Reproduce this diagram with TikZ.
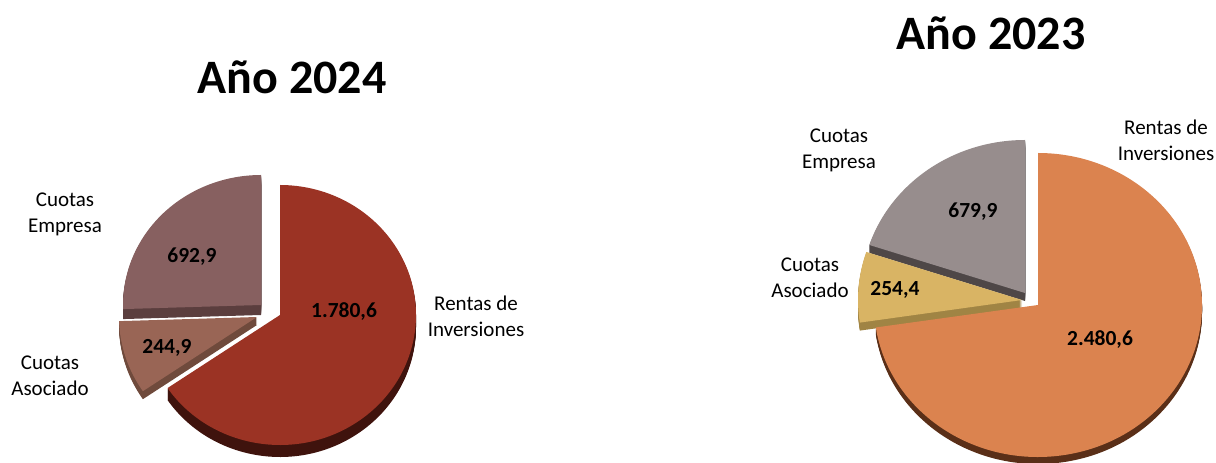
\documentclass[tikz,border=0pt]{standalone}
\usepackage{fontspec}
\setmainfont{Carlito}
\definecolor{rentA}{HTML}{9B3324}
\definecolor{rentAs}{HTML}{3F130D}
\definecolor{empA}{HTML}{876060}
\definecolor{empAs}{HTML}{5B3E3E}
\definecolor{asoA}{HTML}{996555}
\definecolor{asoAs}{HTML}{6F4A3C}
\definecolor{rentB}{HTML}{DB834F}
\definecolor{rentBs}{HTML}{5A2F18}
\definecolor{empB}{HTML}{978D8D}
\definecolor{empBs}{HTML}{4E4747}
\definecolor{asoB}{HTML}{D9B464}
\definecolor{asoBs}{HTML}{A08444}
\begin{document}
\begin{tikzpicture}[x=1pt,y=1pt,
  ttl/.style={font=\fontsize{48}{58}\selectfont\bfseries},
  lbl/.style={font=\fontsize{21}{26}\selectfont,align=center},
  val/.style={font=\fontsize{21.5}{26}\selectfont\bfseries}]
\useasboundingbox (0,0) rectangle (1216,463);
\def\sl#1#2#3#4#5#6#7#8#9{
\foreach \d in {1,...,#7} \fill[#9] (#1,#2-\d) -- +(#3:#5 and #6) arc (#3:#4:#5 and #6) -- cycle;
\fill[#8] (#1,#2) -- +(#3:#5 and #6) arc (#3:#4:#5 and #6) -- cycle;
}
% 2024
\sl{261}{158}{90}{181.8}{138}{130}{10}{empA}{empAs}
\sl{257}{146}{181.8}{214.2}{138}{132}{8}{asoA}{asoAs}
\sl{280}{148}{214.2}{450}{136}{130}{12}{rentA}{rentAs}
\node [ttl] (t24) at (292,386) {Año 2024};
\node [lbl] (e24) at (65,249) {Cuotas\\Empresa};
\node [lbl] (a24) at (50,87) {Cuotas\\Asociado};
\node [lbl] (r24) at (476,147) {Rentas de\\Inversiones};
\node [val] (ve24) at (192,206) {692,9};
\node [val] (va24) at (167,115) {244,9};
\node [val] (vr24) at (344,151) {1.780,6};
% 2023
\sl{1025}{170}{90}{161.7}{164}{153}{8}{empB}{empBs}
\sl{1022}{163}{161.7}{188.5}{164}{153}{8}{asoB}{asoBs}
\sl{1038}{158}{188.5}{450}{164}{152}{7}{rentB}{rentBs}
\node [ttl] (t23) at (991,430) {Año 2023};
\node [lbl] (e23) at (839,313) {Cuotas\\Empresa};
\node [lbl] (a23) at (810,185) {Cuotas\\Asociado};
\node [lbl] (r23) at (1166,323) {Rentas de\\Inversiones};
\node [val] (ve23) at (973,251) {679,9};
\node [val] (va23) at (895,173) {254,4};
\node [val] (vr23) at (1100,123) {2.480,6};
\end{tikzpicture}
\end{document}
